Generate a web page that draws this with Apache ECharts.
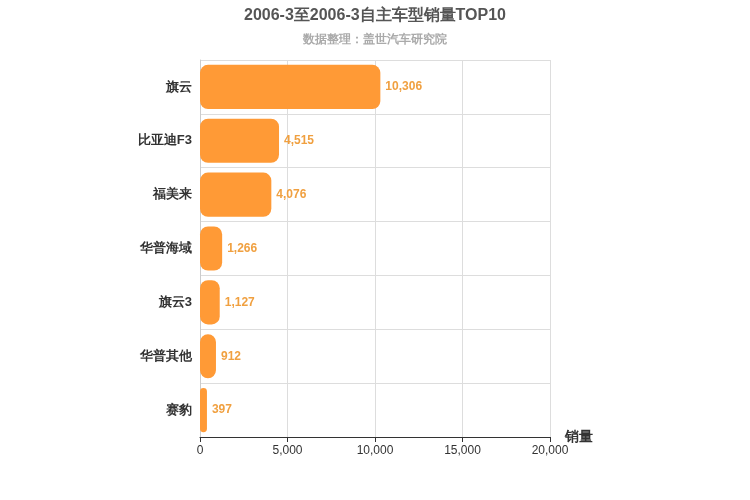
<!DOCTYPE html>
<html><head><meta charset="utf-8">
<script src="https://cdn.jsdelivr.net/npm/echarts@6/dist/echarts.min.js"></script>
<style>body{margin:0}#c{width:750px;height:500px}</style></head>
<body><div id="c"></div>
<script>
const categories = ["旗云","比亚迪F3","福美来","华普海域","旗云3","华普其他","赛豹"];
const values = [10306,4515,4076,1266,1127,912,397];
const xTicks = [0,5000,10000,15000,20000];
const chart = echarts.init(document.getElementById('c'));
chart.setOption({
  title:{text:'2006-3至2006-3自主车型销量TOP10',subtext:'数据整理：盖世汽车研究院',left:'center',top:3,
    textStyle:{fontSize:16,fontWeight:'bold',color:'#555'},subtextStyle:{fontSize:12,fontWeight:'bold',color:'#aaa'},itemGap:10},
  grid:{left:200,right:200,top:60,bottom:63},
  xAxis:{type:'value',min:xTicks[0],max:xTicks[xTicks.length-1],interval:5000,name:'销量',
    nameTextStyle:{fontSize:14,fontWeight:'bold',color:'#333',padding:[0,0,0,0],verticalAlign:'middle'},nameGap:15,
    axisLine:{show:true,lineStyle:{color:'#333'}},axisTick:{show:true},axisLabel:{color:'#333'},
    splitLine:{lineStyle:{color:'#ddd'}}},
  yAxis:{type:'category',inverse:true,data:categories,
    axisLine:{lineStyle:{color:'#ccc'}},axisTick:{show:false},
    axisLabel:{color:'#333',fontWeight:'bold',fontSize:13,margin:8},
    splitLine:{show:true,lineStyle:{color:'#ddd'}}},
  series:[{type:'bar',data:values,barCategoryGap:'18%',
    itemStyle:{color:'#ff9a36',borderRadius:8},
    label:{show:true,position:'right',color:'#f0a040',fontWeight:'bold',fontSize:12,
      formatter:p=>p.value.toLocaleString('en-US')}}]
});
</script></body></html>
